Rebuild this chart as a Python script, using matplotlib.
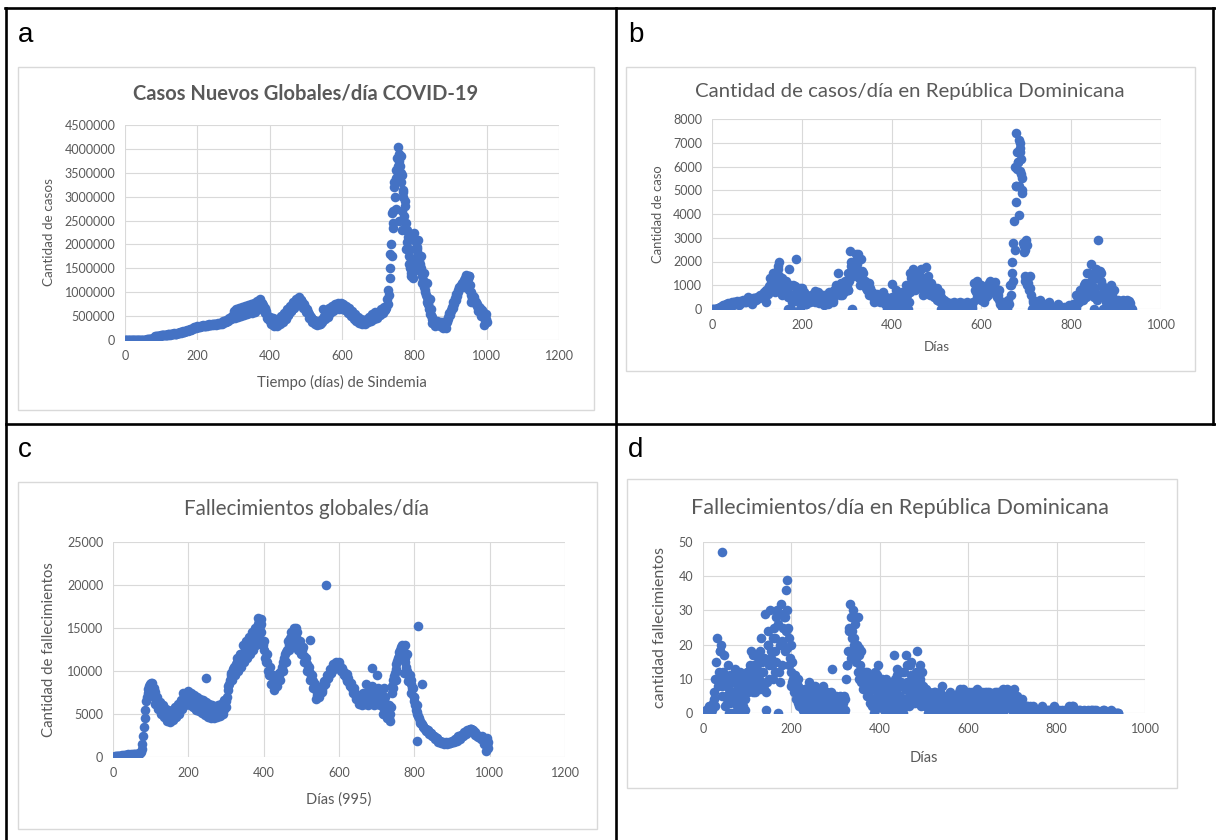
import matplotlib
matplotlib.use('Agg')
import matplotlib.pyplot as plt
from matplotlib.lines import Line2D
from matplotlib.patches import Rectangle

plt.rcParams['font.family'] = ['Lato', 'DejaVu Sans']

# ---------------- datos ----------------
# a: casos nuevos globales por dia (miles), cada 4 dias desde el dia 0 al 1000
dias_a = list(range(0, 1001, 4))
casos_globales_miles = [
    0, 1, 2, 1, 3, 2, 4, 3, 5, 4, 6, 5, 7, 6, 8, 10, 12, 15, 20, 30, 50, 75, 85, 80, 90,
    95, 110, 100, 115, 105, 125, 115, 130, 120, 140, 130, 150, 140, 165, 160, 180, 175, 195, 200, 215, 220, 240, 245, 265, 260,
    285, 270, 300, 285, 310, 290, 320, 300, 330, 305, 340, 310, 345, 320, 350, 325, 360, 340, 390, 370, 420, 400, 460, 440, 510,
    600, 460, 640, 480, 680, 500, 700, 520, 720, 540, 740, 560, 760, 570, 780, 590, 820, 640, 860, 690, 760, 600, 560, 470, 440,
    480, 330, 460, 300, 440, 300, 450, 330, 500, 380, 560, 440, 640, 520, 720, 600, 800, 680, 860, 760, 900, 780, 840, 680, 720,
    580, 600, 460, 500, 380, 420, 330, 400, 320, 400, 330, 450, 640, 450, 600, 490, 660, 560, 720, 600, 760, 640, 770, 640, 780,
    640, 760, 620, 720, 560, 660, 500, 600, 440, 540, 400, 480, 360, 440, 340, 420, 340, 450, 370, 480, 400, 540, 440, 580, 460,
    580, 520, 650, 560, 700, 620, 850, 1050, 1500, 2000, 2700, 3300, 3550, 3800, 4030, 3650, 3300, 3000, 2600, 2300, 2050, 1750, 1500, 1350, 1550,
    2230, 2050, 1900, 1750, 1600, 1400, 1250, 1100, 950, 800, 650, 550, 480, 420, 380, 330, 400, 350, 300, 380, 260, 320, 400, 480, 560,
    620, 700, 800, 880, 960, 1050, 1100, 1150, 1200, 1250, 1300, 1370, 1280, 1050, 950, 880, 820, 780, 720, 680, 640, 600, 540, 480, 420,
    380,
]
# centro de la banda, dias 2, 6, ..., 998
dias_a2 = list(range(2, 999, 4))
casos_globales_miles2 = [
    0, 1, 2, 2, 3, 3, 4, 4, 5, 5, 6, 6, 7, 7, 9, 11, 14, 18, 25, 40, 65, 80, 82, 85, 92,
    100, 105, 108, 110, 112, 118, 122, 125, 128, 132, 135, 142, 148, 155, 162, 170, 180, 188, 198, 208, 218, 230, 242, 255, 268,
    278, 282, 292, 295, 300, 302, 310, 312, 318, 320, 325, 328, 335, 335, 340, 342, 350, 355, 370, 380, 400, 420, 440, 470, 490,
    520, 530, 550, 560, 570, 590, 600, 610, 620, 630, 640, 650, 660, 670, 680, 690, 710, 730, 760, 780, 740, 660, 600, 530, 470,
    390, 380, 360, 360, 350, 360, 370, 390, 400, 430, 460, 500, 530, 570, 610, 650, 690, 740, 780, 820, 850, 840, 800, 750, 700,
    640, 590, 540, 490, 450, 410, 380, 360, 350, 345, 350, 380, 500, 520, 520, 560, 580, 610, 630, 660, 680, 700, 700, 710, 720,
    710, 690, 680, 650, 630, 600, 580, 550, 520, 490, 470, 440, 420, 400, 390, 380, 380, 390, 400, 420, 440, 460, 480, 500, 520,
    550, 580, 600, 620, 640, 680, 750, 950, 1300, 1750, 2350, 3000, 3400, 3650, 3900, 3850, 3450, 3150, 2800, 2450, 2150, 1900, 1650, 1450, 1450,
    2100, 1950, 1800, 1650, 1500, 1350, 1200, 1050, 900, 750, 620, 520, 450, 400, 360, 350, 380, 330, 320, 340, 300, 340, 380, 440, 520,
    600, 680, 760, 840, 920, 1000, 1080, 1130, 1180, 1220, 1270, 1320, 1330, 1150, 1000, 920, 850, 800, 750, 700, 660, 620, 580, 510, 450,
]
extra_a = [
    (734, 1800), (738, 2650), (742, 2450), (745, 3200), (750, 2750), (754, 3500), (757, 3750), (758, 2500),
    (762, 3500), (765, 2700), (766, 2300), (769, 2500), (770, 3100), (773, 2300), (775, 2900), (778, 1900),
    (781, 2300), (786, 1600), (790, 1400), (797, 1300), (802, 1900), (806, 1700), (810, 2100), (814, 1500),
    (818, 1750), (822, 1200), (826, 1400), (830, 1000), (834, 1200), (838, 750), (842, 850), (846, 650),
    (850, 350), (858, 300), (870, 380), (880, 350), (888, 250), (940, 1100), (946, 1200), (950, 1350),
    (958, 800), (965, 900), (975, 600), (985, 500), (994, 320), (998, 550),
]

# b: casos por dia en Republica Dominicana, cada 4 dias desde el dia 0 al 936
dias_b = list(range(0, 937, 4))
casos_rd = [
    0, 0, 0, 0, 50, 100, 150, 60, 200, 250, 120, 300, 280, 200, 350, 300, 250, 400, 350, 300, 450, 400, 350, 480, 420,
    500, 450, 600, 550, 700, 800, 650, 950, 1100, 900, 1300, 1500, 1800, 1100, 1300, 900, 1200, 700, 1700, 0, 600, 950, 2100, 500, 900,
    400, 700, 300, 600, 450, 350, 650, 500, 400, 700, 350, 600, 450, 550, 300, 700, 500, 600, 800, 1000, 1500, 800, 1100, 900, 1200,
    1000, 1500, 2450, 0, 2000, 2300, 1600, 1300, 2100, 1500, 1200, 1000, 800, 900, 700, 600, 500, 650, 450, 550, 400, 300, 500, 250, 400,
    1050, 0, 300, 500, 400, 600, 700, 300, 1000, 0, 900, 1300, 1700, 1100, 1400, 1500, 1200, 1300, 1000, 1750, 900, 800, 1100, 700, 900,
    600, 500, 700, 300, 400, 200, 300, 150, 250, 200, 300, 150, 250, 300, 200, 250, 150, 300, 200, 250, 0, 1100, 700, 900, 600,
    1000, 500, 900, 800, 1100, 1200, 900, 1000, 700, 800, 400, 200, 100, 0, 200, 400, 1000, 2000, 3700, 5200, 6600, 7100, 6300, 2800, 1400,
    1300, 1100, 900, 0, 400, 200, 300, 100, 250, 0, 200, 100, 150, 0, 100, 50, 100, 0, 80, 50, 0, 100, 50, 80, 150,
    100, 200, 100, 300, 500, 800, 600, 1000, 700, 1500, 900, 1900, 800, 1300, 600, 2900, 1600, 1000, 800, 500, 700, 300, 1000, 400, 200,
    300, 400, 250, 350, 400, 300, 200, 350, 100, 0,
]
dias_b2 = list(range(2, 935, 4))
casos_rd2 = [
    0, 0, 0, 30, 80, 120, 100, 180, 150, 200, 250, 180, 300, 250, 220, 320, 280, 350, 300, 380, 350, 420, 380, 450, 400,
    480, 520, 500, 650, 600, 750, 700, 850, 1000, 800, 1200, 1000, 1400, 900, 1000, 700, 800, 500, 1000, 300, 400, 700, 800, 300, 600,
    300, 500, 200, 450, 300, 550, 400, 300, 500, 250, 450, 300, 600, 400, 200, 500, 350, 400, 600, 700, 900, 600, 800, 700, 900,
    800, 1200, 1800, 1400, 1600, 1900, 1400, 1000, 1600, 1200, 900, 800, 600, 700, 500, 400, 350, 450, 300, 400, 300, 200, 350, 150, 300,
    500, 200, 100, 300, 250, 400, 500, 200, 600, 300, 700, 1000, 1300, 900, 1100, 1200, 900, 1000, 800, 1300, 700, 600, 800, 500, 700,
    400, 350, 500, 200, 250, 150, 200, 100, 150, 100, 200, 100, 150, 200, 100, 150, 100, 200, 150, 100, 300, 800, 500, 700, 400,
    700, 300, 700, 600, 900, 1000, 700, 800, 500, 600, 200, 100, 0, 0, 100, 200, 600, 1200, 2500, 4500, 6200, 6800, 5500, 2400, 1200,
    1000, 800, 600, 300, 200, 100, 200, 50, 150, 0, 100, 50, 100, 0, 50, 0, 50, 0, 50, 0, 0, 50, 0, 50, 100,
    50, 150, 50, 200, 300, 600, 400, 700, 500, 1100, 600, 1400, 500, 900, 400, 1500, 1200, 700, 500, 300, 400, 200, 600, 200, 100,
    200, 300, 150, 250, 300, 200, 150, 250, 50,
]
extra_b = [
    (674, 6000), (678, 7400), (682, 6200), (686, 5800), (687, 7000), (690, 5000), (689, 5700), (684, 3950),
    (670, 2800), (668, 1500), (666, 1000), (694, 2650), (698, 2500), (700, 2900), (702, 2700), (690, 4900),
    (676, 5200), (680, 5900), (683, 5200), (685, 6600),
    (16, 0), (30, 0), (40, 50), (60, 150), (80, 500), (90, 200), (120, 300), (130, 1300), (136, 1500),
    (140, 700), (150, 2000), (146, 1700), (156, 600), (162, 1000), (170, 0), (180, 1000), (196, 0), (200, 900),
    (210, 200), (230, 750), (250, 150), (270, 300), (290, 600), (304, 800), (310, 2000), (320, 1800), (326, 2300),
    (330, 1400), (350, 1100), (360, 300), (380, 700), (390, 0), (402, 200), (410, 800), (420, 200), (426, 0),
    (440, 1500), (452, 800), (466, 1700), (470, 600), (480, 1400), (500, 900), (510, 0), (540, 0), (560, 100),
    (590, 1200), (610, 500), (620, 1000), (630, 1150), (640, 800), (650, 300), (656, 0), (708, 1400), (716, 0),
    (730, 400), (750, 300), (770, 200), (800, 0), (810, 600), (830, 1100), (840, 1500), (846, 1200), (850, 0),
    (856, 1700), (866, 1500), (870, 0), (878, 700), (886, 0), (896, 800), (910, 0), (924, 400),
]

# c: fallecimientos globales por dia, cada 4 dias desde el dia 0 al 996
dias_c = list(range(0, 997, 4))
fallec_globales = [
    0, 50, 100, 80, 150, 120, 200, 150, 250, 200, 300, 220, 320, 250, 350, 280, 400, 350, 500, 900, 2500, 4500, 6500, 7500, 8300,
    8600, 7400, 7800, 6200, 7000, 5600, 6400, 5000, 6000, 4600, 5600, 4200, 5400, 4100, 5500, 4300, 5800, 4600, 6200, 5000, 6600, 5600, 7200, 6000, 7400,
    7700, 6000, 7400, 5800, 7200, 5500, 7000, 5300, 6800, 5100, 6600, 4900, 6400, 4700, 6200, 4500, 6000, 4500, 5800, 4600, 6000, 4800, 6200, 5000, 6600,
    6500, 7800, 8500, 9500, 9000, 10500, 9500, 11500, 10000, 12000, 10500, 13000, 11000, 13500, 11500, 14000, 12000, 14500, 12500, 15000, 13000, 16200, 14000, 15500, 13500,
    13500, 11500, 12000, 10000, 10500, 8500, 9500, 7800, 9000, 8200, 9800, 9000, 10500, 10000, 12000, 11000, 13500, 12500, 14500, 13000, 15000, 13500, 14500, 12500, 13500,
    12000, 12800, 11000, 11500, 10000, 10500, 9000, 9500, 8000, 8500, 6800, 7500, 7000, 8000, 7800, 8800, 8500, 9500, 9200, 10200, 9800, 10800, 10200, 11000, 10500,
    10800, 10000, 10400, 9500, 9800, 8800, 9200, 8200, 8600, 7500, 8000, 6800, 7200, 6200, 6800, 6000, 7500, 6200, 8500, 6000, 7800, 6500, 8200, 6000, 7600,
    6200, 8000, 6000, 7500, 5800, 8000, 6200, 4500, 6000, 4200, 7500, 9000, 9800, 10800, 11500, 12200, 12800, 13000, 12000, 11000, 10000, 8800, 9500, 7500, 8000,
    6500, 5500, 5000, 4500, 4000, 3800, 3500, 3300, 3000, 3100, 2700, 2800, 2400, 2500, 2100, 2200, 1800, 1900, 1600, 1800, 1500, 1700, 1500, 1700, 1600,
    1900, 1700, 2100, 1900, 2400, 2100, 2600, 2400, 2900, 2700, 3100, 2900, 3300, 3000, 3100, 2600, 2700, 2300, 2500, 2100, 2300, 1800, 2000, 1400, 1000,
]
dias_c2 = list(range(2, 995, 4))
fallec_globales2 = [
    30, 70, 90, 110, 130, 160, 170, 200, 220, 250, 260, 280, 290, 300, 320, 330, 370, 420, 600, 1500, 3500, 5500, 7000, 7900, 8500,
    8300, 7600, 7000, 6400, 6000, 5800, 5600, 5400, 5200, 5000, 4800, 4700, 4600, 4500, 4700, 4800, 5000, 5100, 5300, 5600, 5800, 6200, 6500, 6800, 7000,
    7000, 6800, 6600, 6500, 6300, 6200, 6100, 6000, 5900, 5800, 5700, 5600, 5500, 5400, 5300, 5200, 5100, 5000, 5000, 5100, 5200, 5300, 5500, 5600, 5900,
    7000, 8200, 9000, 9800, 10200, 10000, 10800, 11000, 11500, 11200, 12000, 12000, 12500, 12500, 13000, 13000, 13500, 13500, 14000, 14000, 14800, 15000, 15200, 14500, 13000,
    12500, 11000, 11000, 9500, 9500, 8500, 8500, 8800, 8800, 9000, 9500, 10000, 11000, 11500, 12200, 12500, 13000, 13500, 14000, 14200, 14000, 14000, 13500, 13200, 12800,
    12500, 11800, 11200, 10800, 10200, 9800, 9200, 8800, 8300, 7800, 7200, 7200, 7500, 7600, 8200, 8500, 9000, 9200, 9600, 9800, 10200, 10400, 10500, 10600, 10700,
    10400, 10200, 10000, 9600, 9300, 9000, 8700, 8400, 8000, 7800, 7400, 7000, 6800, 6600, 6400, 6600, 6800, 7000, 7200, 7200, 7000, 7100, 7000, 7200, 6900,
    7000, 7000, 6800, 6600, 7000, 7000, 5500, 5200, 5000, 5800, 8200, 9400, 10200, 11200, 11800, 12500, 12800, 12500, 11500, 10500, 9500, 9000, 8500, 8000, 7000,
    6000, 5200, 4800, 4200, 3900, 3600, 3400, 3200, 3000, 2900, 2800, 2600, 2500, 2300, 2200, 2000, 1900, 1800, 1700, 1600, 1600, 1600, 1600, 1600, 1700,
    1800, 1900, 2000, 2200, 2300, 2400, 2500, 2600, 2800, 2900, 3000, 3100, 3200, 3100, 2900, 2700, 2500, 2400, 2300, 2200, 2100, 1900, 1700, 1500,
]
extra_c = [
    (248, 9200), (565, 20000), (524, 13600), (688, 10300), (700, 9500), (809, 15200), (806, 1900), (820, 8500),
    (772, 9800), (780, 12000), (776, 13000), (764, 11500), (744, 8000), (752, 9000), (388, 15800), (384, 15500),
    (392, 16000), (480, 14200), (486, 15000), (470, 13800), (476, 14000), (190, 6600), (186, 7400), (170, 5000),
    (180, 5700), (300, 5800), (296, 5600), (108, 8000), (104, 8600), (112, 7600), (716, 5000), (660, 6600),
    (720, 5000), (732, 4500), (736, 5000), (620, 9700), (600, 11000), (592, 10500), (808, 6000), (800, 7000),
    (790, 9000), (950, 3300), (960, 2900), (990, 700), (996, 1800), (994, 2200), (980, 2500), (985, 1500),
    (360, 12000), (352, 12500), (340, 12000),
]

# d: fallecimientos por dia en Republica Dominicana, cada 4 dias desde el dia 0 al 940
dias_d = list(range(0, 941, 4))
fallec_rd = [
    0, 0, 1, 0, 2, 1, 4, 10, 22, 12, 20, 8, 17, 5, 14, 3, 10, 6, 13, 2, 8, 12, 0, 10, 4,
    12, 8, 18, 6, 14, 10, 16, 7, 22, 12, 29, 9, 20, 30, 14, 25, 18, 30, 12, 32, 20, 28, 24, 25, 16,
    12, 10, 11, 5, 8, 3, 6, 2, 5, 1, 9, 4, 6, 2, 7, 3, 5, 1, 8, 3, 6, 0, 4, 13, 2,
    5, 0, 4, 1, 3, 0, 10, 18, 32, 22, 30, 26, 20, 17, 14, 12, 10, 8, 12, 6, 11, 4, 9, 3, 14,
    8, 5, 9, 3, 7, 2, 8, 4, 17, 6, 13, 3, 9, 0, 7, 17, 4, 14, 8, 10, 3, 18, 6, 9, 12,
    4, 7, 2, 6, 3, 5, 1, 4, 2, 6, 8, 1, 4, 2, 5, 3, 1, 4, 2, 5, 6, 3, 7, 2, 5,
    4, 1, 6, 3, 5, 7, 2, 5, 6, 1, 4, 3, 6, 2, 4, 6, 1, 3, 5, 2, 4, 6, 7, 3, 5,
    2, 7, 4, 1, 3, 2, 1, 2, 0, 1, 2, 0, 1, 0, 1, 0, 1, 0, 0, 1, 0, 0, 1, 0, 0,
    1, 0, 0, 1, 0, 0, 1, 2, 1, 2, 1, 0, 0, 1, 0, 0, 0, 0, 1, 0, 0, 1, 0, 0, 0,
    0, 0, 1, 0, 0, 0, 0, 0, 0, 0, 0,
]
dias_d2 = list(range(2, 939, 4))
fallec_rd2 = [
    0, 1, 0, 2, 0, 3, 6, 15, 8, 18, 5, 10, 2, 8, 0, 6, 9, 4, 11, 3, 6, 9, 2, 7, 11,
    9, 14, 7, 11, 8, 13, 11, 18, 9, 16, 6, 24, 14, 18, 10, 22, 15, 26, 9, 21, 29, 18, 30, 22, 20,
    9, 7, 4, 10, 2, 5, 1, 7, 3, 6, 0, 5, 3, 8, 1, 6, 2, 7, 0, 5, 2, 4, 1, 3, 0,
    2, 3, 0, 2, 5, 1, 14, 24, 28, 18, 22, 16, 12, 19, 9, 11, 7, 10, 5, 9, 2, 8, 1, 11, 6,
    3, 7, 1, 10, 4, 6, 2, 9, 5, 11, 1, 8, 4, 12, 2, 9, 6, 15, 3, 11, 7, 4, 10, 2, 8,
    6, 3, 5, 0, 4, 2, 6, 3, 1, 4, 2, 5, 3, 0, 6, 2, 4, 1, 3, 5, 2, 6, 0, 4, 3,
    6, 2, 4, 1, 3, 5, 0, 4, 2, 6, 3, 5, 1, 4, 2, 5, 3, 6, 2, 4, 1, 5, 3, 6, 2,
    4, 1, 3, 0, 2, 4, 0, 1, 2, 0, 1, 1, 0, 0, 1, 0, 2, 1, 0, 0, 1, 0, 0, 2, 1,
    0, 1, 0, 0, 1, 0, 0, 1, 2, 0, 1, 0, 1, 0, 0, 1, 0, 0, 0, 1, 0, 0, 1, 0, 0,
    0, 1, 0, 0, 0, 1, 0, 0, 0, 0,
]
extra_d = [
    (42, 47), (190, 39), (188, 36), (28, 2), (34, 10), (38, 18), (46, 12), (50, 9), (54, 3), (58, 7), (62, 11),
    (66, 0), (70, 4), (74, 9), (78, 0), (82, 4), (86, 11), (90, 6), (94, 1), (98, 9), (102, 6), (106, 13),
    (110, 10), (114, 17), (118, 6), (122, 9), (126, 12), (130, 8), (134, 15), (138, 7), (142, 1), (146, 20),
    (150, 10), (154, 16), (158, 22), (162, 12), (166, 28), (170, 0), (174, 20), (178, 14), (182, 25), (186, 28),
    (190, 19), (194, 14), (198, 8), (202, 15), (206, 6), (210, 9), (214, 3), (218, 7), (222, 5), (226, 1),
    (230, 7), (234, 3), (238, 6), (242, 2), (246, 8), (250, 4), (254, 1), (258, 5), (262, 0), (266, 7),
    (270, 3), (274, 5), (278, 0), (282, 4), (286, 2), (290, 6), (294, 1), (298, 4), (302, 2), (306, 0),
    (310, 5), (314, 2), (318, 0), (322, 4), (326, 14), (330, 25), (334, 16), (338, 24), (342, 20), (346, 15),
    (350, 28), (354, 10), (358, 18), (362, 7), (366, 12), (370, 5), (374, 9), (378, 3), (382, 7), (386, 0),
    (390, 12), (394, 6), (398, 5), (402, 2), (406, 10), (410, 6), (414, 4), (418, 9), (422, 5), (426, 0),
    (430, 7), (434, 10), (438, 2), (442, 8), (446, 5), (450, 12), (454, 4), (458, 8), (462, 14), (466, 2),
    (470, 11), (474, 5), (478, 8), (482, 12), (486, 3), (490, 14), (494, 5), (498, 7), (502, 2), (506, 5),
    (510, 0), (514, 4), (518, 2), (522, 6), (526, 3), (530, 0), (534, 4), (538, 2), (542, 5), (546, 3),
    (550, 0), (554, 4), (558, 2), (562, 5), (566, 3), (570, 1), (574, 4), (578, 2), (582, 7), (586, 1),
    (590, 4), (594, 6), (598, 2), (602, 5), (606, 3), (610, 0), (614, 6), (618, 2), (622, 4), (626, 6),
    (630, 3), (634, 5), (638, 2), (642, 6), (646, 1), (650, 4), (654, 5), (658, 2), (662, 3), (666, 6),
    (670, 1), (674, 4), (678, 7), (682, 2), (686, 5), (690, 3), (694, 6), (698, 1), (702, 4), (706, 2),
    (710, 5), (714, 2), (718, 3), (722, 0), (726, 2), (730, 1), (734, 2), (738, 0), (742, 1), (746, 2),
    (760, 1), (780, 1), (800, 0), (830, 0), (834, 0), (880, 1), (920, 0), (930, 0),
]

# ---------------- figura ----------------
W, H = 1216, 840
fig = plt.figure(figsize=(W / 100, H / 100), dpi=100)
fig.patch.set_facecolor('white')
AZUL = '#4472C4'
GRIS = '#595959'


def rect(x0, y0, x1, y1):
    return [x0 / W, 1 - y1 / H, (x1 - x0) / W, (y1 - y0) / H]


def ajustar(t, largo, vertical=False):
    r = fig.canvas.get_renderer()
    bb = t.get_window_extent(r)
    medida = bb.height if vertical else bb.width
    t.set_fontsize(t.get_fontsize() * largo / medida)


def linea(x0, y0, x1, y1):
    fig.add_artist(Line2D([x0 / W, x1 / W], [1 - y0 / H, 1 - y1 / H],
                          color='black', lw=1.9, transform=fig.transFigure))


paneles = [
    dict(letra='a', pos_letra=(18, 42), caja=(18, 67, 594, 410), area=(125, 125, 559, 340),
         series=[(dias_a, [v * 1000 for v in casos_globales_miles]),
                 (dias_a2, [v * 1000 for v in casos_globales_miles2]),
                 tuple(zip(*[(d, v * 1000) for d, v in extra_a]))],
         xlim=1200, xpaso=200, ylim=4500000, ypaso=500000,
         titulo='Casos Nuevos Globales/día COVID-19', negrita=True, pos_titulo=(306, 93), ancho_titulo=346,
         xlab='Tiempo (días) de Sindemia', pos_xlab=(342, 382), ancho_xlab=171,
         ylab='Cantidad de casos', x_ylab=49, largo_ylab=108),
    dict(letra='b', pos_letra=(628, 42), caja=(626, 67, 1195, 371), area=(712, 119, 1161, 309),
         series=[(dias_b, casos_rd), (dias_b2, casos_rd2), tuple(zip(*extra_b))],
         xlim=1000, xpaso=200, ylim=8000, ypaso=1000,
         titulo='Cantidad de casos/día en República Dominicana', negrita=False, pos_titulo=(910, 91), ancho_titulo=427,
         xlab='Días', pos_xlab=(937, 347), ancho_xlab=26,
         ylab='Cantidad de caso', x_ylab=658, largo_ylab=98),
    dict(letra='c', pos_letra=(18, 457), caja=(18, 482, 597, 829), area=(113, 542, 565, 757),
         series=[(dias_c, fallec_globales), (dias_c2, fallec_globales2), tuple(zip(*extra_c))],
         xlim=1200, xpaso=200, ylim=25000, ypaso=5000,
         titulo='Fallecimientos globales/día', negrita=False, pos_titulo=(306, 509), ancho_titulo=245,
         xlab='Días (995)', pos_xlab=(339, 800), ancho_xlab=65,
         ylab='Cantidad de fallecimientos', x_ylab=49, largo_ylab=175),
    dict(letra='d', pos_letra=(628, 457), caja=(627, 479, 1177, 788), area=(703, 542, 1145, 713),
         series=[(dias_d, fallec_rd), (dias_d2, fallec_rd2), tuple(zip(*extra_d))],
         xlim=1000, xpaso=200, ylim=50, ypaso=10,
         titulo='Fallecimientos/día en República Dominicana', negrita=False, pos_titulo=(900, 508), ancho_titulo=417,
         xlab='Días', pos_xlab=(924, 758), ancho_xlab=28,
         ylab='cantidad fallecimientos', x_ylab=660, largo_ylab=162),
]

for p in paneles:
    x0, y0, x1, y1 = p['caja']
    fig.add_artist(Rectangle((x0 / W, 1 - y1 / H), (x1 - x0) / W, (y1 - y0) / H,
                             transform=fig.transFigure, fill=False, edgecolor='#d9d9d9', lw=1))

    ax = fig.add_axes(rect(*p['area']))
    for xs, ys in p['series']:
        ax.scatter(xs, ys, s=48, color=AZUL, linewidths=0, zorder=3)
    ax.set_xlim(0, p['xlim'])
    ax.set_ylim(0, p['ylim'])
    ax.set_xticks(range(0, p['xlim'] + 1, p['xpaso']))
    ax.set_yticks(range(0, p['ylim'] + 1, p['ypaso']))
    ax.ticklabel_format(axis='y', style='plain', useOffset=False)
    ax.grid(True, color='#d9d9d9', lw=0.8)
    ax.set_axisbelow(True)
    for s in ax.spines.values():
        s.set_visible(False)
    ax.tick_params(length=0, pad=7, labelsize=9, labelcolor=GRIS)
    ax.patch.set_alpha(0)

    t = fig.text(p['pos_titulo'][0] / W, 1 - p['pos_titulo'][1] / H, p['titulo'],
                 ha='center', va='center', color=GRIS, fontsize=13,
                 fontweight='bold' if p['negrita'] else 'normal')
    ajustar(t, p['ancho_titulo'])
    t = fig.text(p['pos_xlab'][0] / W, 1 - p['pos_xlab'][1] / H, p['xlab'],
                 ha='center', va='center', color=GRIS, fontsize=10)
    ajustar(t, p['ancho_xlab'])
    ycen = (p['area'][1] + p['area'][3]) / 2
    t = fig.text(p['x_ylab'] / W, 1 - ycen / H, p['ylab'], rotation=90,
                 ha='center', va='center', color=GRIS, fontsize=10)
    ajustar(t, p['largo_ylab'], vertical=True)

    fig.text(p['pos_letra'][0] / W, 1 - p['pos_letra'][1] / H, p['letra'],
             ha='left', va='baseline', fontsize=20, family=['Liberation Sans', 'DejaVu Sans'])

# marco de la tabla
linea(5, 8, 1216, 8)
linea(6, 8, 6, 840)
linea(616, 8, 616, 840)
linea(6, 424, 1216, 424)
linea(1213, 8, 1213, 424)

fig.savefig('out.png', dpi=100)
